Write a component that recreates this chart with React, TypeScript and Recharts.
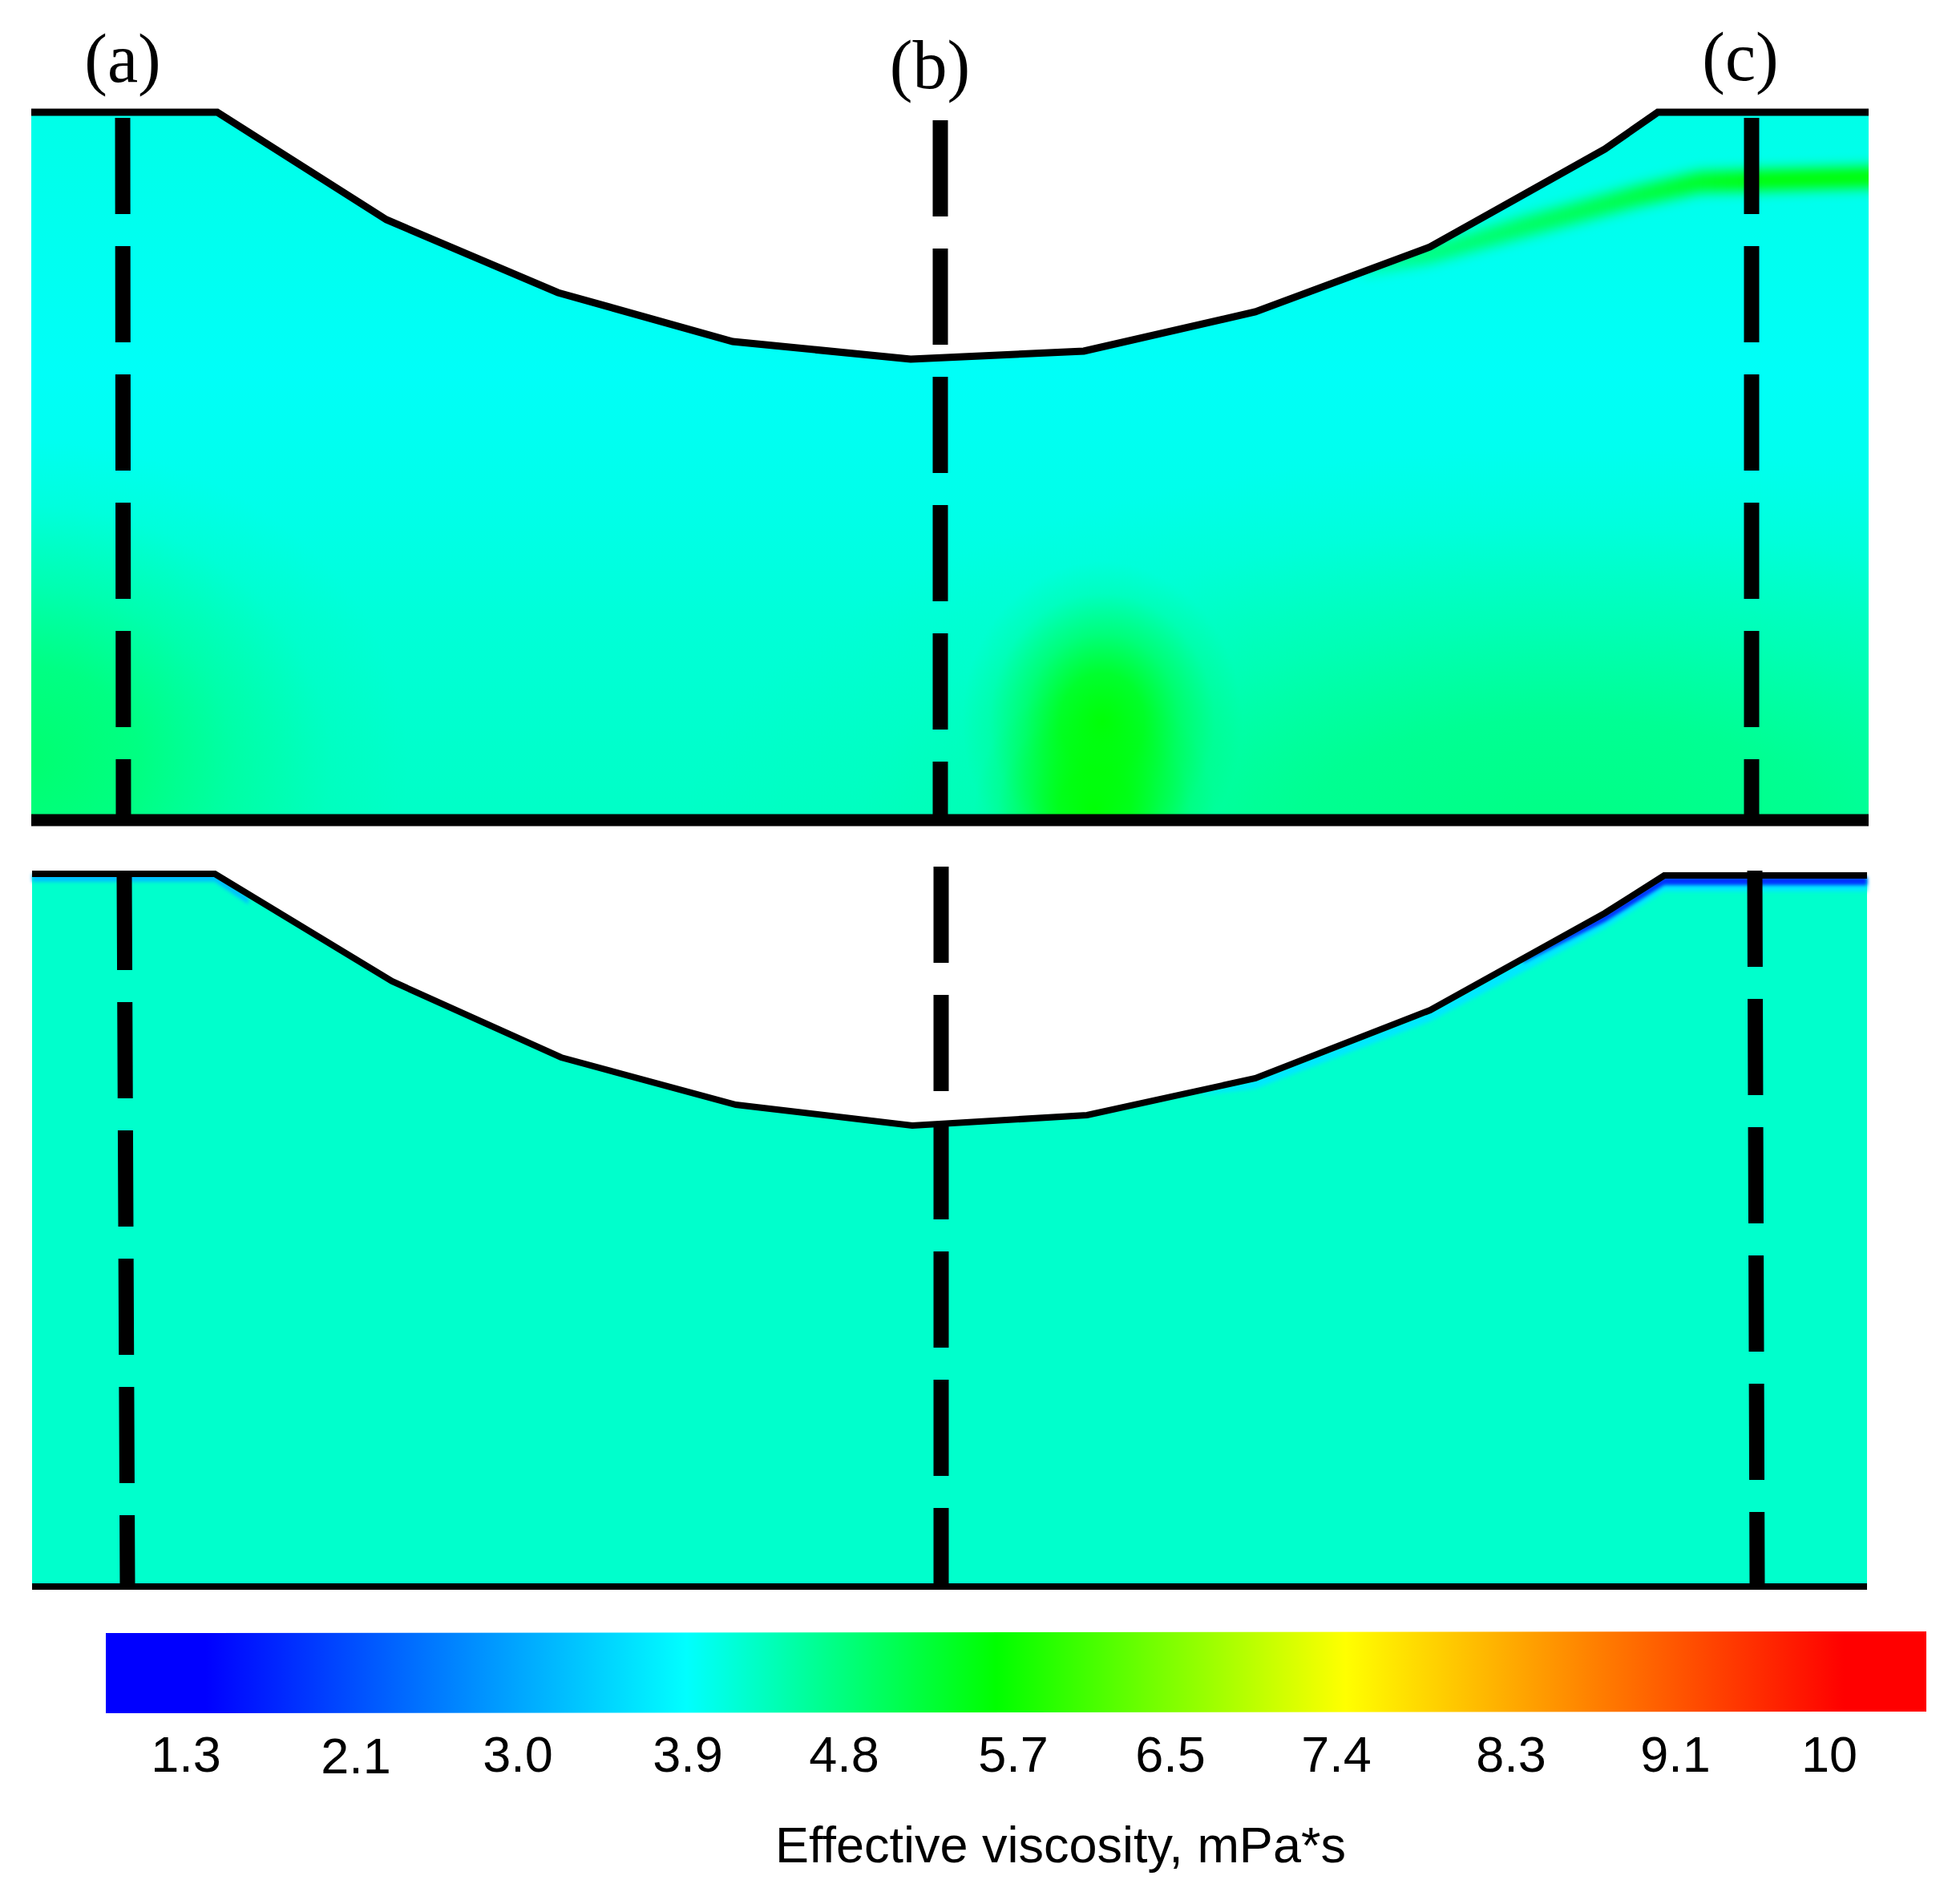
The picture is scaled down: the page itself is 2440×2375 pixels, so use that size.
import React from "react";
import { ComposedChart, Area, Line, XAxis, YAxis, LabelList } from "recharts";

// --- upper panel outline
const topX = [39, 271, 482, 696, 914, 1136, 1352, 1566, 1784, 2002, 2068, 2331];
const topY = [140, 140, 274, 365, 426, 448, 438, 389, 308, 186, 140, 140];
const topFloor = 1023;
// --- lower panel outline
const lowX = [40, 268, 489, 700, 918, 1138, 1356, 1566, 1784, 2002, 2076, 2329];
const lowY = [1090, 1090, 1224, 1319, 1378, 1404, 1391, 1345, 1260, 1139, 1092, 1092];
const lowFloor = 1979;
// --- high viscosity band under the right shoulder of the upper panel
const bandX = [1700, 1784, 1900, 2040, 2120, 2331, 2420];
const bandTop = [336, 306, 270, 232, 214, 208, 208];
const bandBottom = [342, 328, 296, 258, 240, 234, 234];
// --- low viscosity skin of the lower panel
const skinLeftX = [40, 268, 310];
const skinLeftTop = [1090, 1090, 1120];
const skinLeftBottom = [1100, 1100, 1128];
const skinCyanX = [1500, 1566, 1784, 2002, 2076, 2329];
const skinCyanTop = [1364, 1347, 1262, 1141, 1094, 1094];
const skinCyanBottom = [1366, 1358, 1274, 1158, 1112, 1112];
const skinBlueX = [1900, 2002, 2076, 2329];
const skinBlueTop = [1198, 1141, 1094, 1094];
const skinBlueBottom = [1201, 1150, 1104, 1104];
// --- dashed section lines
const sectionLines = [
  { x: [153, 154], y: [147, 1023] },
  { x: [1173, 1173], y: [150, 1023] },
  { x: [2185, 2185], y: [147, 1023] },
  { x: [155, 159], y: [1090, 1979] },
  { x: [1174, 1174], y: [1081, 1979] },
  { x: [2189, 2192], y: [1086, 1979] },
];
// --- colour scale
const scaleLabels = ["1.3", "2.1", "3.0", "3.9", "4.8", "5.7", "6.5", "7.4", "8.3", "9.1", "10"];
const scaleLabelX = [232, 444, 646, 858, 1053, 1264, 1460, 1667, 1885, 2090, 2282];
const scaleLabelY = [2188, 2190, 2188, 2188, 2188, 2188, 2188, 2188, 2188, 2188, 2188];
const scaleStopOffset = [0, 0.055, 0.319, 0.489, 0.681, 0.955, 1];
const scaleStopColor = ["#0000ff", "#0000ff", "#00ffff", "#00ff00", "#ffff00", "#ff0000", "#ff0000"];
// --- captions
const panelLabels = ["(a)", "(b)", "(c)"];
const panelLabelX = [153, 1160, 2171];
const panelLabelY = [71, 79, 69];
const titleText = "Effective viscosity, mPa*s";

const field = (xs: number[], ys: number[], floor: number) => xs.map((x, i) => ({ x, y0: ys[i], y1: floor }));
const ranged = (xs: number[], a: number[], b: number[]) => xs.map((x, i) => ({ x, y0: a[i], y1: b[i] }));
const points = (xs: number[], ys: number[]) => xs.map((x, i) => ({ x, y: ys[i] }));
const range = (d: any) => [d.y0, d.y1];

const topField = field(topX, topY, topFloor);
const lowField = field(lowX, lowY, lowFloor);
const skyMask = topX.map((x, i) => ({ x, y0: 0, y1: topY[i] - 1 }));
const rightMask = ranged([2331, 2440], [0, 0], [1040, 1040]);
const colourBar = ranged([132, 2403], [2037, 2035], [2137, 2135]);

const none = { stroke: "none", dot: false, activeDot: false, isAnimationActive: false } as any;

const Radial = ({ id, cx, cy, rx, ry, color, o }: any) => (
  <radialGradient id={id} gradientUnits="userSpaceOnUse" cx={0} cy={0} r={1} gradientTransform={`translate(${cx} ${cy}) scale(${rx} ${ry})`}>
    <stop offset="0" stopColor={color} stopOpacity={o} />
    <stop offset="0.3" stopColor={color} stopOpacity={o * 0.8} />
    <stop offset="0.55" stopColor={color} stopOpacity={o * 0.4} />
    <stop offset="0.8" stopColor={color} stopOpacity={o * 0.1} />
    <stop offset="1" stopColor={color} stopOpacity={0} />
  </radialGradient>
);

export default function App() {
  return (
    <div style={{ position: "absolute", left: 0, top: 0, width: 2440, height: 2375, background: "#fff" }}>
      <ComposedChart width={2440} height={2375} margin={{ top: 0, right: 0, bottom: 0, left: 0 }}>
        <defs>
          <linearGradient id="topBase" gradientUnits="userSpaceOnUse" x1={0} y1={140} x2={0} y2={1023}>
            <stop offset="0" stopColor="#00ffe8" />
            <stop offset="0.37" stopColor="#00fff8" />
            <stop offset="0.55" stopColor="#00ffea" />
            <stop offset="0.72" stopColor="#00ffd8" />
            <stop offset="0.9" stopColor="#00ffcc" />
            <stop offset="1" stopColor="#00ffc6" />
          </linearGradient>
          {Radial({ id: "glowLeft", cx: 30, cy: 950, rx: 480, ry: 400, color: "#00ff70", o: 1 })}
          {Radial({ id: "glowRight", cx: 1950, cy: 1040, rx: 1100, ry: 480, color: "#00ff78", o: 0.85 })}
          {Radial({ id: "glowSpot", cx: 1375, cy: 900, rx: 175, ry: 200, color: "#00ff00", o: 0.95 })}
          {Radial({ id: "glowSpot2", cx: 1365, cy: 1010, rx: 150, ry: 160, color: "#00ff00", o: 0.95 })}
          <linearGradient id="bandFill" gradientUnits="userSpaceOnUse" x1={1700} y1={0} x2={2331} y2={0}>
            <stop offset="0" stopColor="#00ff50" stopOpacity={0.7} />
            <stop offset="0.5" stopColor="#00ff40" stopOpacity={0.95} />
            <stop offset="0.8" stopColor="#00ff00" stopOpacity={1} />
            <stop offset="1" stopColor="#00ff00" stopOpacity={1} />
          </linearGradient>
          <linearGradient id="scaleFill" x1="0" y1="0" x2="1" y2="0">
            {scaleStopOffset.map((o, i) => (
              <stop key={i} offset={o} stopColor={scaleStopColor[i]} />
            ))}
          </linearGradient>
        </defs>
        <XAxis type="number" dataKey="x" domain={[0, 2440]} hide allowDataOverflow />
        <YAxis type="number" domain={[0, 2375]} reversed hide allowDataOverflow />

        <Area data={topField} dataKey={range} type="linear" fill="url(#topBase)" fillOpacity={1} {...none} />
        <Area data={topField} dataKey={range} type="linear" fill="url(#glowLeft)" fillOpacity={1} {...none} />
        <Area data={topField} dataKey={range} type="linear" fill="url(#glowRight)" fillOpacity={1} {...none} />
        <Area data={topField} dataKey={range} type="linear" fill="url(#glowSpot)" fillOpacity={1} {...none} />
        <Area data={topField} dataKey={range} type="linear" fill="url(#glowSpot2)" fillOpacity={1} {...none} />
        <Area data={ranged(bandX, bandTop, bandBottom)} dataKey={range} type="linear" fill="url(#bandFill)" fillOpacity={1} style={{ filter: "blur(8px)" }} {...none} />
        <Area data={skyMask} dataKey={range} type="linear" fill="#ffffff" fillOpacity={1} {...none} />
        <Area data={rightMask} dataKey={range} type="linear" fill="#ffffff" fillOpacity={1} {...none} />

        <Area data={lowField} dataKey={range} type="linear" fill="#00ffcc" fillOpacity={1} {...none} />
        <Area data={ranged(skinLeftX, skinLeftTop, skinLeftBottom)} dataKey={range} type="linear" fill="#00c0ff" fillOpacity={1} style={{ filter: "blur(2px)" }} {...none} />
        <Area data={ranged(skinCyanX, skinCyanTop, skinCyanBottom)} dataKey={range} type="linear" fill="#00e8ff" fillOpacity={1} style={{ filter: "blur(2.5px)" }} {...none} />
        <Area data={ranged(skinBlueX, skinBlueTop, skinBlueBottom)} dataKey={range} type="linear" fill="#0030ff" fillOpacity={1} style={{ filter: "blur(2px)" }} {...none} />

        <Area data={colourBar} dataKey={range} type="linear" fill="url(#scaleFill)" fillOpacity={1} {...none} />

        <Line data={points(topX, topY)} dataKey="y" type="linear" stroke="#000" strokeWidth={9} dot={false} activeDot={false} isAnimationActive={false} />
        <Line data={points([39, 2331], [1023, 1023])} dataKey="y" type="linear" stroke="#000" strokeWidth={15} dot={false} activeDot={false} isAnimationActive={false} />
        <Line data={points(lowX, lowY)} dataKey="y" type="linear" stroke="#000" strokeWidth={8} dot={false} activeDot={false} isAnimationActive={false} />
        <Line data={points([40, 2329], [1979, 1979])} dataKey="y" type="linear" stroke="#000" strokeWidth={8} dot={false} activeDot={false} isAnimationActive={false} />

        {sectionLines.map((s, i) => (
          <Line key={i} data={points(s.x, s.y)} dataKey="y" type="linear" stroke="#000" strokeWidth={19} strokeDasharray="120 40" dot={false} activeDot={false} isAnimationActive={false} />
        ))}

        <Line data={scaleLabelX.map((x, i) => ({ x, y: scaleLabelY[i], t: scaleLabels[i] }))} dataKey="y" {...none}>
          <LabelList dataKey="t" position="center" fill="#000" fontSize={63} fontFamily="'Liberation Sans', Arial, sans-serif" />
        </Line>
        <Line data={panelLabelX.map((x, i) => ({ x, y: panelLabelY[i], t: panelLabels[i] }))} dataKey="y" {...none}>
          <LabelList dataKey="t" position="center" fill="#000" fontSize={86} fontFamily="'Liberation Serif', 'Times New Roman', serif" />
        </Line>
        <Line data={[{ x: 1323, y: 2301, t: titleText }]} dataKey="y" {...none}>
          <LabelList dataKey="t" position="center" fill="#000" fontSize={63} fontFamily="'Liberation Sans', Arial, sans-serif" />
        </Line>
      </ComposedChart>
    </div>
  );
}
